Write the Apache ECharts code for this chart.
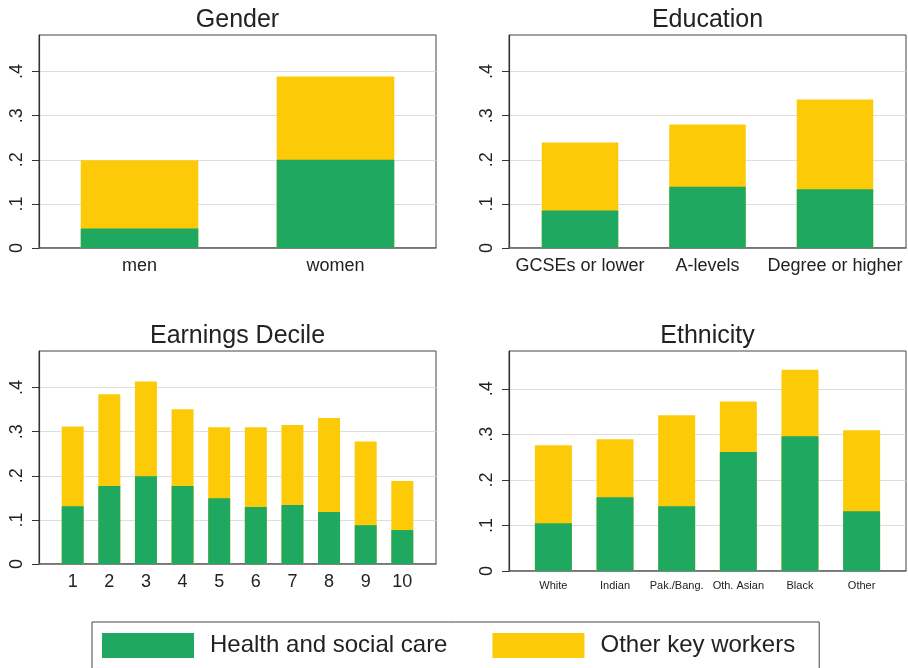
<!DOCTYPE html>
<html>
<head>
<meta charset="utf-8">
<script src="https://cdn.jsdelivr.net/npm/echarts@6/dist/echarts.min.js"></script>
<style>
  html, body { margin: 0; background: #fff; }
  #chart { width: 908px; height: 668px; }
</style>
</head>
<body>
<div id="chart"></div>
<script>
/* ─── Data (shares of workers) ─── */
const genderCats = ["men", "women"];
const genderHealth = [0.044, 0.200];
const genderOther = [0.155, 0.189];

const eduCats = ["GCSEs or lower", "A-levels", "Degree or higher"];
const eduHealth = [0.085, 0.139, 0.133];
const eduOther = [0.154, 0.141, 0.204];

const decileCats = ["1", "2", "3", "4", "5", "6", "7", "8", "9", "10"];
const decileHealth = [0.131, 0.177, 0.199, 0.177, 0.149, 0.129, 0.134, 0.118, 0.088, 0.077];
const decileOther = [0.181, 0.208, 0.215, 0.174, 0.161, 0.181, 0.181, 0.213, 0.190, 0.111];

const ethCats = ["White", "Indian", "Pak./Bang.", "Oth. Asian", "Black", "Other"];
const ethHealth = [0.105, 0.162, 0.142, 0.261, 0.296, 0.131];
const ethOther = [0.171, 0.127, 0.200, 0.111, 0.146, 0.178];

const yTicks = [0, 0.1, 0.2, 0.3, 0.4];
const yTickLabels = ["0", ".1", ".2", ".3", ".4"];

const SERIES_NAMES = ["Health and social care", "Other key workers"];
const GREEN = "#1fa860";
const YELLOW = "#fdca08";
const FONT = "Liberation Sans, Arial, sans-serif";
const INK = "#222";

/* ─── Panel layout (Stata-like 2x2) ─── */
const panels = [
  { title: "Gender", cats: genderCats, health: genderHealth, other: genderOther,
    left: 39, top: 35, height: 213, xmin: 0.487, xmax: 2.513, fs: 18, margin: 9 },
  { title: "Education", cats: eduCats, health: eduHealth, other: eduOther,
    left: 509, top: 35, height: 213, xmin: 0.443, xmax: 3.557, fs: 18, margin: 9 },
  { title: "Earnings Decile", cats: decileCats, health: decileHealth, other: decileOther,
    left: 39, top: 351, height: 213, xmin: 0.08, xmax: 10.92, fs: 18, margin: 9 },
  { title: "Ethnicity", cats: ethCats, health: ethHealth, other: ethOther,
    left: 509, top: 351, height: 220, xmin: 0.28, xmax: 6.72, fs: 11, margin: 9 },
];
const PANEL_W = 397;

const chart = echarts.init(document.getElementById("chart"), null, { renderer: "canvas" });

// value x-axis (to get Stata's outer gaps) does not stack, so the yellow
// bar is drawn at the cumulative height and the green one overlaps it
const option = {
  backgroundColor: "#fff",
  animation: false,
  textStyle: { fontFamily: FONT, color: INK },
  title: panels.map((p) => ({
    text: p.title,
    left: p.left + PANEL_W / 2,
    textAlign: "center",
    top: p.top - 27,
    padding: 0,
    textStyle: { fontSize: 25, fontWeight: "normal", color: INK, fontFamily: FONT },
  })),
  grid: panels.map((p) => ({
    left: p.left,
    top: p.top,
    width: PANEL_W,
    height: p.height,
    show: true,
    borderColor: "#444",
    borderWidth: 1,
    backgroundColor: "#fff",
  })),
  xAxis: panels.map((p, i) => ({
    type: "value",
    gridIndex: i,
    min: p.xmin,
    max: p.xmax,
    splitLine: { show: false },
    axisTick: { show: false },
    axisLine: { show: true, lineStyle: { color: "#666", width: 1.5 } },
    axisLabel: {
      customValues: p.cats.map((_, j) => j + 1),
      formatter: (v) => p.cats[Math.round(v) - 1] ?? "",
      fontSize: p.fs,
      color: INK,
      fontFamily: FONT,
      margin: p.margin,
    },
  })),
  yAxis: panels.map((p, i) => ({
    type: "value",
    gridIndex: i,
    min: 0,
    max: 0.483,
    interval: 0.1,
    axisLine: { show: true, lineStyle: { color: "#333", width: 1.2 } },
    axisTick: { show: true, length: 7, customValues: yTicks, lineStyle: { color: "#333" } },
    splitLine: { lineStyle: { color: "#dedede", width: 1.2 } },
    axisLabel: {
      customValues: yTicks,
      formatter: (v) => yTickLabels[Math.round(v * 10)] ?? "",
      rotate: 90,
      fontSize: 18,
      color: INK,
      fontFamily: FONT,
      margin: 13,
    },
  })),
  legend: {
    left: 92,
    top: 622,
    padding: [11, 24, 11, 10],
    borderColor: "#444",
    borderWidth: 1,
    itemWidth: 92,
    itemHeight: 25,
    itemGap: 45,
    icon: "rect",
    selectedMode: false,
    data: SERIES_NAMES,
    textStyle: { fontSize: 24, color: INK, fontFamily: FONT, padding: [0, 0, 0, 11] },
  },
  series: panels.flatMap((p, i) => [
    {
      type: "bar",
      name: SERIES_NAMES[1],
      xAxisIndex: i,
      yAxisIndex: i,
      barWidth: "60%",
      barGap: "-100%",
      z: 2,
      itemStyle: { color: YELLOW },
      data: p.other.map((v, j) => [j + 1, p.health[j] + v]),
    },
    {
      type: "bar",
      name: SERIES_NAMES[0],
      xAxisIndex: i,
      yAxisIndex: i,
      barWidth: "60%",
      barGap: "-100%",
      z: 3,
      itemStyle: { color: GREEN },
      data: p.health.map((v, j) => [j + 1, v]),
    },
  ]),
};

chart.setOption(option);
</script>
</body>
</html>
